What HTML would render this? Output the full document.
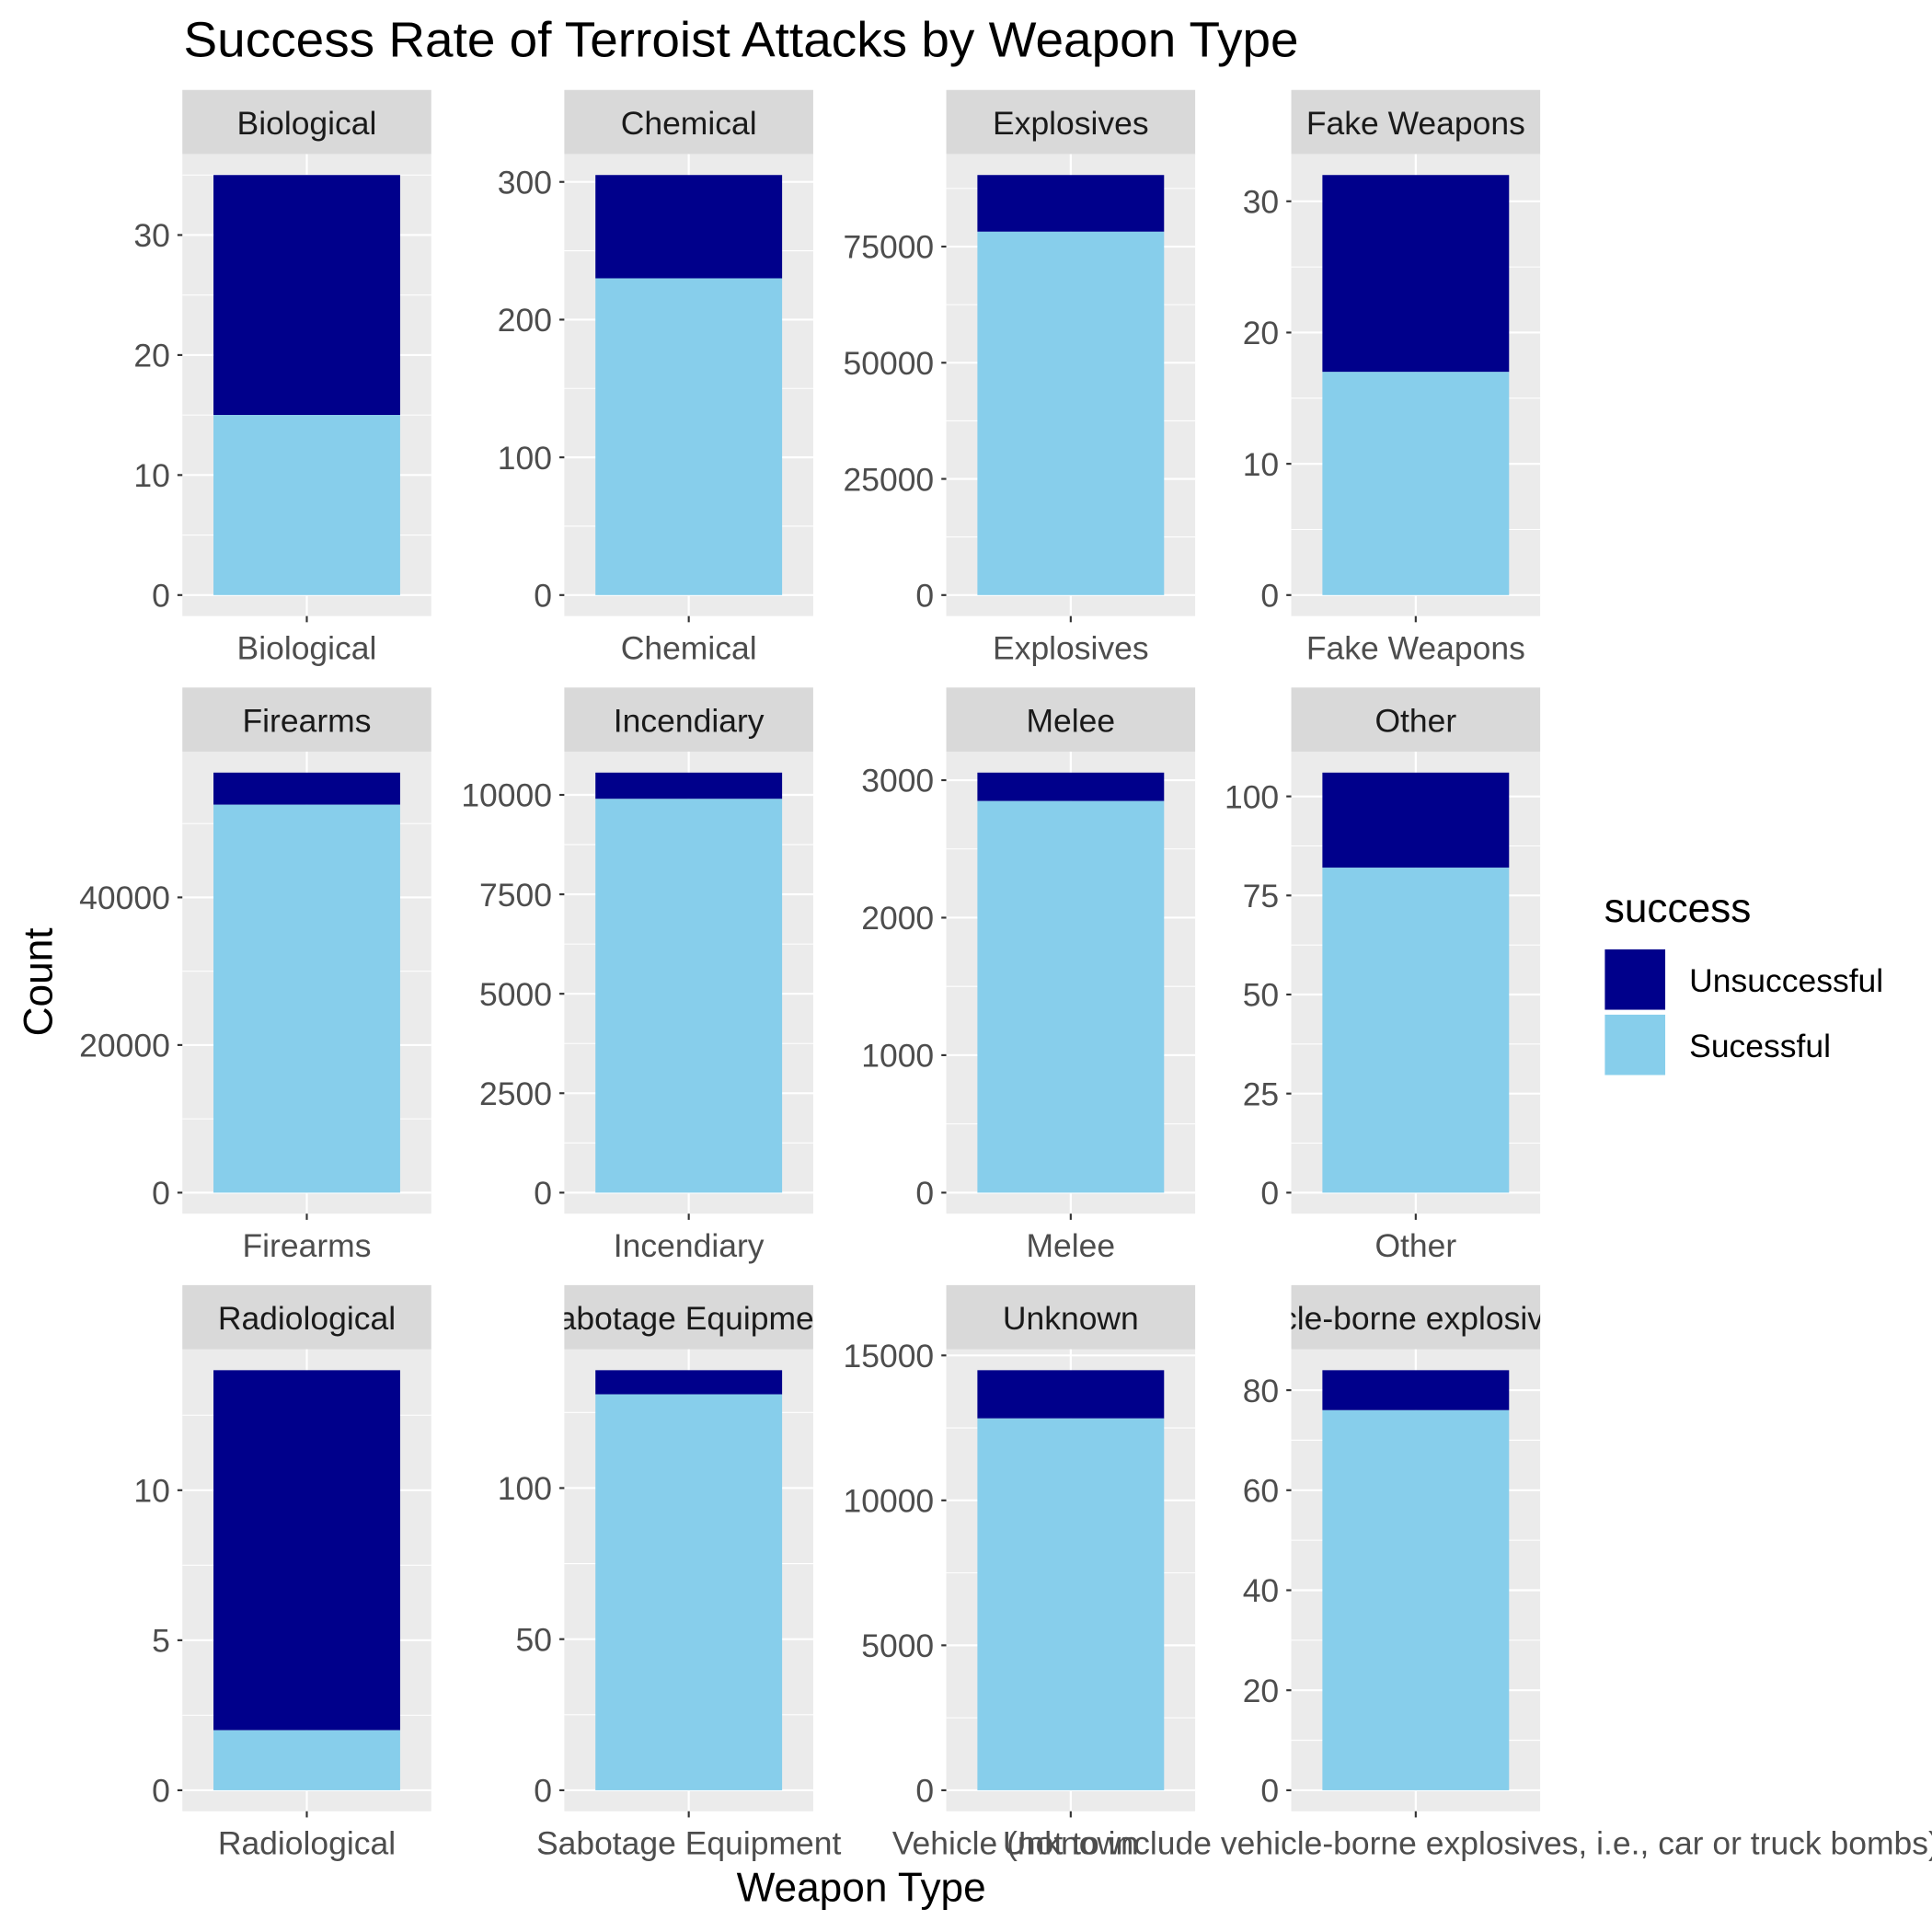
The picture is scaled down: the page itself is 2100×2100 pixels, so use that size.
<!DOCTYPE html>
<html><head><meta charset="utf-8"><style>
html,body{margin:0;padding:0;background:#fff;}
svg{display:block;font-family:"Liberation Sans",Arial,sans-serif;}
</style></head><body>
<svg id="chart" width="2100" height="2100" viewBox="0 0 1568 1568" xmlns="http://www.w3.org/2000/svg">
<rect width="1568" height="1568" fill="#fff"/>
<text x="149" y="46" font-size="40" textLength="905" lengthAdjust="spacingAndGlyphs" fill="#000">Success Rate of Terroist Attacks by Weapon Type</text>
<text transform="translate(42,797) rotate(-90)" text-anchor="middle" font-size="33" fill="#000">Count</text>
<text x="699" y="1543" text-anchor="middle" font-size="33" fill="#000">Weapon Type</text>
<g id="panels"></g>
<g>
<text x="1302" y="748" font-size="33" fill="#000">success</text>
<rect x="1302" y="770" width="50" height="50" fill="#00008B" stroke="#fff"/>
<rect x="1302" y="823" width="50" height="50" fill="#87CEEB" stroke="#fff"/>
<text x="1371" y="805" font-size="26.5" fill="#000">Unsuccessful</text>
<text x="1371" y="858" font-size="26.5" fill="#000">Sucessful</text>
</g>
</svg>
<script>
const categories=["Biological","Chemical","Explosives","Fake Weapons","Firearms","Incendiary","Melee","Other","Radiological","Sabotage Equipment","Unknown","Vehicle (not to include vehicle-borne explosives, i.e., car or truck bombs)"];
const totals=[35,305,90400,32,56900,10560,3055,106,14,139,14490,84];
const successful=[15,230,78200,17,52550,9900,2848,82,2,131,12826,76];
const tickSteps=[10,100,25000,10,20000,2500,1000,25,5,50,5000,20];
const NS="http://www.w3.org/2000/svg";
const g=document.getElementById('panels');
function el(t,a,p){const e=document.createElementNS(NS,t);for(const k in a)e.setAttribute(k,a[k]);(p||g).appendChild(e);return e;}
const colX=[148,458,768,1048], pw=202;
const rowTop=[73,558,1043];
const FS=26.5;
categories.forEach((cat,i)=>{
  const col=i%4,row=Math.floor(i/4);
  const x0=colX[col], st=rowTop[row], pt=st+52, pb=pt+375;
  const maxv=totals[i];
  const y=v=>pb-375*(v/maxv+0.05)/1.1;
  const pg=el('g',{});
  
  
  const bg=el('rect',{x:x0,y:pt,width:pw,height:375,fill:'#EBEBEB'},pg);
  
  
  const step=tickSteps[i];
  for(let v=step/2; y(v)>=pt; v+=step){el('line',{x1:x0,x2:x0+pw,y1:y(v),y2:y(v),stroke:'#fff','stroke-width':0.8},pg);}
  for(let v=0; y(v)>=pt; v+=step){
    el('line',{x1:x0,x2:x0+pw,y1:y(v),y2:y(v),stroke:'#fff','stroke-width':1.6},pg);
    el('line',{x1:x0-4,x2:x0,y1:y(v),y2:y(v),stroke:'#333','stroke-width':1.6},pg);
    const t=el('text',{x:x0-10,y:y(v)+9.5,'text-anchor':'end','font-size':FS,fill:'#4D4D4D'},pg);
    t.textContent=String(v);
    
    
  }
  const cx=x0+pw/2;
  el('line',{x1:cx,x2:cx,y1:pt,y2:pb,stroke:'#fff','stroke-width':1.6},pg);
  el('line',{x1:cx,x2:cx,y1:pb,y2:pb+5,stroke:'#333','stroke-width':1.6},pg);
  const bw=pw*0.9/1.2;
  const b1=el('rect',{x:cx-bw/2,y:y(totals[i]),width:bw,height:y(successful[i])-y(totals[i]),fill:'#00008B'},pg);
  
  
  const b2=el('rect',{x:cx-bw/2,y:y(successful[i]),width:bw,height:y(0)-y(successful[i]),fill:'#87CEEB'},pg);
  
  
  const s=el('rect',{x:x0,y:st,width:pw,height:52,fill:'#D9D9D9'},pg);
  
  
  const cp=el('clipPath',{id:'cp'+i},pg);
  el('rect',{x:x0,y:st,width:pw,height:52},cp);
  const stt=el('text',{x:cx,y:st+36,'text-anchor':'middle','font-size':FS,fill:'#1A1A1A','clip-path':'url(#cp'+i+')'},pg);
  stt.textContent=cat;
  
  
  const xl=el('text',{x:cx,y:pb+35,'text-anchor':'middle','font-size':FS,fill:'#4D4D4D'},pg);
  xl.textContent=cat;
  
  
});
</script>
</body></html>
